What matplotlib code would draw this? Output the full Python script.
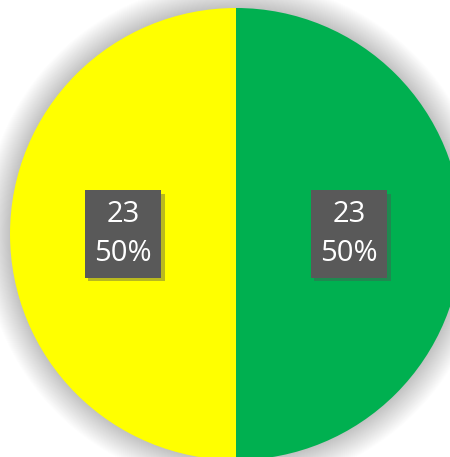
import numpy as np
import matplotlib.pyplot as plt
import matplotlib.patheffects as pe
from matplotlib.patches import Circle

# Data
labels = ['Sí', 'No']
values = [23, 23]
colors = ['#00B050', '#FFFF00']

plt.rcParams['font.family'] = ['Open Sans', 'DejaVu Sans']

fig = plt.figure(figsize=(4.5, 4.57), dpi=100)
fig.patch.set_facecolor('white')
ax = fig.add_axes([10 / 450, -3 / 457, 452 / 450, 452 / 457])
ax.set_xlim(-1, 1)
ax.set_ylim(-1, 1)
ax.set_aspect('equal')
ax.axis('off')

# soft glow around the pie
n = 30
for i in range(n):
    r = 1 + 0.12 * (1 - i / n)
    ax.add_patch(Circle((0, 0), r, color='#606060', alpha=0.012, lw=0,
                        zorder=0, clip_on=False))

wedges, texts, autotexts = ax.pie(
    values, colors=colors, startangle=90, counterclock=False, radius=1,
    autopct=lambda p: '{:.0f}\n{:.0f}%'.format(p * sum(values) / 100, p),
    pctdistance=0.5, wedgeprops=dict(linewidth=0), frame=False)

ax.set_xlim(-1, 1)
ax.set_ylim(-1, 1)

for t in autotexts:
    t.set_color('white')
    t.set_fontsize(21)
    t.set_linespacing(1.45)
    t.set_bbox(dict(boxstyle='square,pad=0.33', facecolor='#595959', edgecolor='none'))
    t.get_bbox_patch().set_path_effects([
        pe.SimplePatchShadow(offset=(2.5, -2.5), shadow_rgbFace='#505050', alpha=0.4),
        pe.Normal()])

fig.savefig('out.png', dpi=100, facecolor='white')
